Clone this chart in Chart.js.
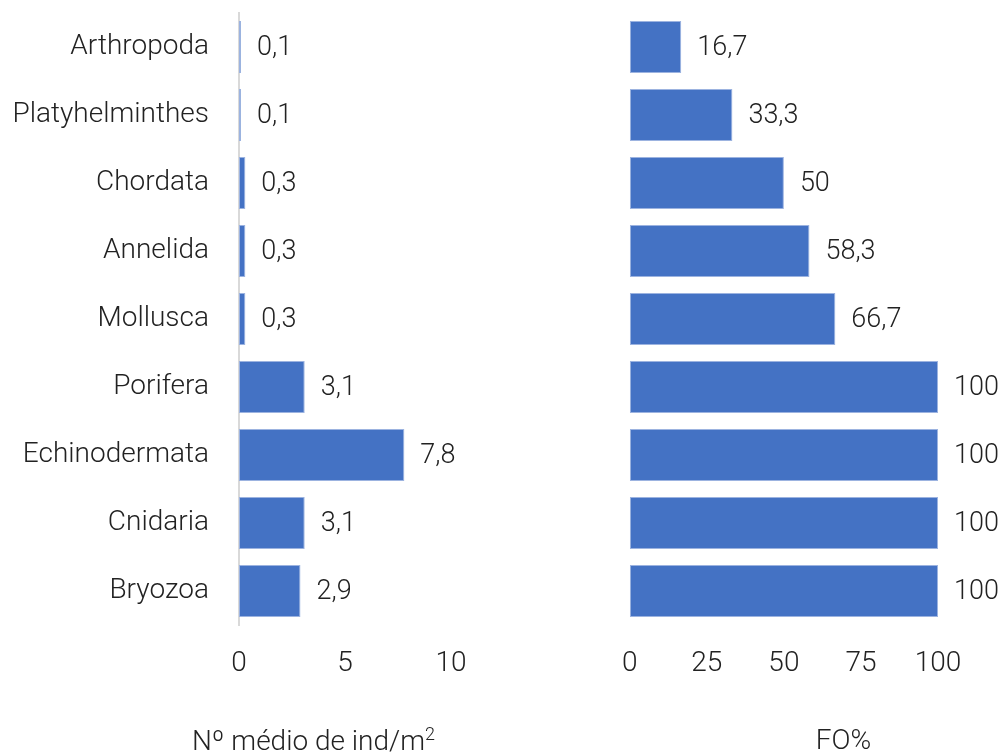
<!DOCTYPE html>
<html>
<head>
<meta charset="utf-8">
<script src="https://cdn.jsdelivr.net/npm/chart.js@4/dist/chart.umd.min.js"></script>
<style>
  body { margin: 0; background: #fff; width: 1007px; height: 755px; overflow: hidden; position: relative; font-family: Roboto, sans-serif; font-weight: 300; color: #222; }
  #leftBox { position: absolute; left: 0; top: 0; width: 627px; height: 755px; }
  #rightBox { position: absolute; left: 600px; top: 0; width: 407px; height: 755px; }
  .axisTitle { position: absolute; top: 723px; font-size: 28px; text-align: center; white-space: nowrap; }
  .axisTitle sup { font-size: 18px; }
</style>
</head>
<body>
<div id="leftBox"><canvas id="leftChart"></canvas></div>
<div id="rightBox"><canvas id="rightChart"></canvas></div>
<div class="axisTitle" style="left:0;width:627px;">Nº médio de ind/m<sup>2</sup></div>
<div class="axisTitle" style="left:680px;width:327px;">FO%</div>
<script>
const phyla = ["Arthropoda", "Platyhelminthes", "Chordata", "Annelida", "Mollusca", "Porifera", "Echinodermata", "Cnidaria", "Bryozoa"];
const densityValues = [0.1, 0.1, 0.3, 0.3, 0.3, 3.1, 7.8, 3.1, 2.9];
const frequencyValues = [16.7, 33.3, 50, 58.3, 66.7, 100, 100, 100, 100];
const densityTicks = [0, 5, 10];
const frequencyTicks = [0, 25, 50, 75, 100];

const textColor = "#222";
const font = { family: "Roboto", weight: 300, size: 28 };

// draws the value next to the end of every bar (comma decimals)
const valueLabels = {
  id: "valueLabels",
  afterDatasetsDraw(chart) {
    const ctx = chart.ctx;
    ctx.save();
    ctx.font = "300 27px Roboto";
    ctx.fillStyle = textColor;
    ctx.textAlign = "left";
    ctx.textBaseline = "middle";
    const meta = chart.getDatasetMeta(0);
    meta.data.forEach((bar, i) => {
      const v = chart.data.datasets[0].data[i];
      ctx.fillText(String(v).replace(".", ","), bar.x + 16, bar.y + 1);
    });
    ctx.restore();
  }
};

function barDataset(values) {
  return {
    data: values,
    backgroundColor: "#4472C4",
    borderColor: "#9cb3e0",
    borderWidth: 1,
    borderSkipped: false,
    barPercentage: 0.765,
    categoryPercentage: 1
  };
}

function xScale(max, ticksList) {
  return {
    min: 0,
    max: max,
    afterBuildTicks: (scale) => { scale.ticks = ticksList.map((v) => ({ value: v })); },
    afterFit: (scale) => { scale.height = 130; },
    grid: { display: false, drawTicks: false },
    border: { display: false },
    ticks: { color: textColor, font: font, padding: 22, maxRotation: 0 }
  };
}

new Chart(document.getElementById("leftChart"), {
  type: "bar",
  data: { labels: phyla, datasets: [barDataset(densityValues)] },
  options: {
    indexAxis: "y",
    responsive: true,
    maintainAspectRatio: false,
    animation: false,
    layout: { padding: { top: 13, right: 176, left: 0, bottom: 0 } },
    plugins: { legend: { display: false }, tooltip: { enabled: false } },
    scales: {
      x: xScale(10, densityTicks),
      y: {
        afterFit: (scale) => {
          scale.width = 239;
          scale.paddingTop = 0;
          scale.paddingBottom = 0;
        },
        grid: { display: false, drawTicks: false },
        border: { display: true, color: "#d9d9d9", width: 2 },
        ticks: { color: textColor, font: font, padding: 30 }
      }
    }
  },
  plugins: [valueLabels]
});

new Chart(document.getElementById("rightChart"), {
  type: "bar",
  data: { labels: phyla, datasets: [barDataset(frequencyValues)] },
  options: {
    indexAxis: "y",
    responsive: true,
    maintainAspectRatio: false,
    animation: false,
    layout: { padding: { top: 13, right: 69, left: 24, bottom: 0 } },
    plugins: { legend: { display: false }, tooltip: { enabled: false } },
    scales: {
      x: xScale(100, frequencyTicks),
      y: { display: false }
    }
  },
  plugins: [valueLabels]
});
</script>
</body>
</html>
